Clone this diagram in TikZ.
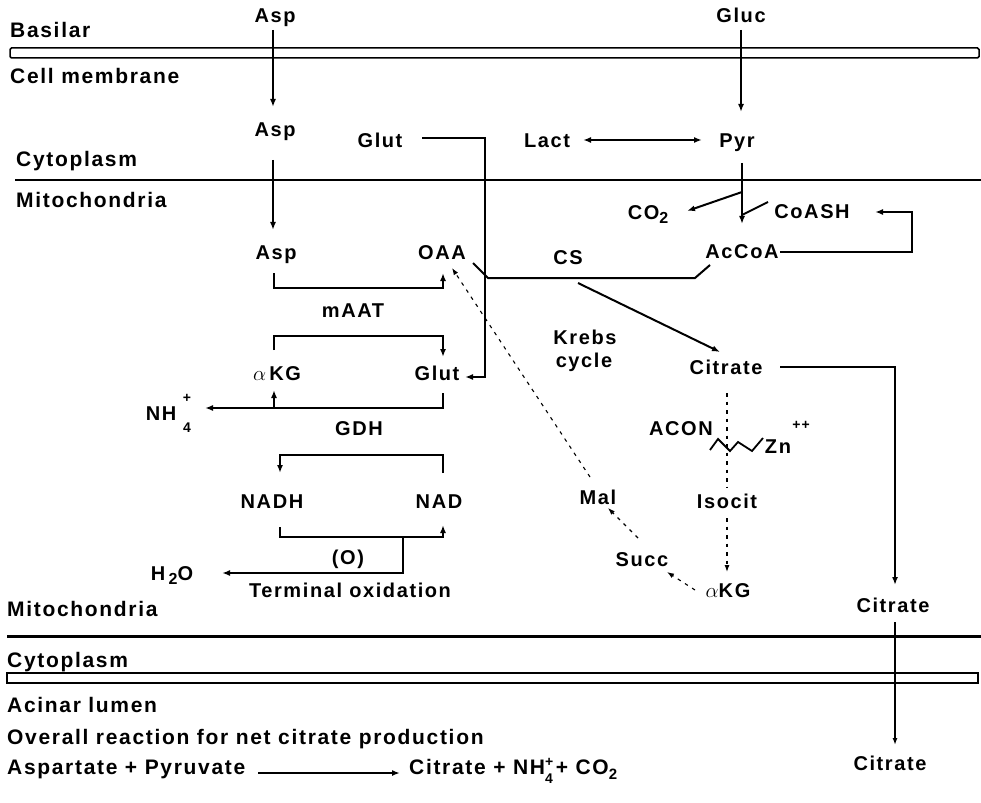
\documentclass[tikz,border=0pt]{standalone}
\usepackage{fontspec}
\setmainfont{Liberation Sans}[LetterSpace=8]
\usetikzlibrary{arrows.meta}
\begin{document}
\begin{tikzpicture}[x=1pt,y=-1pt,
  lbl/.style={font=\fontsize{20}{22}\selectfont\bfseries, inner sep=0pt, text height=14.3pt, text depth=0pt},
  reg/.style={font=\fontsize{21}{23}\selectfont\bfseries, inner sep=0pt, text height=15pt, text depth=0pt, anchor=west},
  small/.style={font=\fontsize{14}{15}\selectfont\bfseries, inner sep=0pt},
  conn/.style={line width=2pt},
  arr/.style={conn, -{Latex[length=8pt,width=6pt]}},
  darr/.style={conn, {Latex[length=8pt,width=6pt]}-{Latex[length=8pt,width=6pt]}},
  dashconn/.style={line width=1.1pt, dash pattern=on 3.5pt off 5pt},
  darrow/.style={dashconn, -{Latex[length=7pt,width=5pt]}},
  memb/.style={line width=1.5pt}]
\useasboundingbox (0,0) rectangle (981,802);

% membranes
\draw[memb, rounded corners=1.5pt] (10,48) rectangle (979,58);
\draw[line width=2pt] (15,180) -- (981,180);
\draw[line width=3pt] (7,636) -- (981,636);
\draw[memb] (7,673) rectangle (978,683);

% region labels
\node[reg] (basilar) at (10,30) {Basilar};
\node[reg] (cellmem) at (10,76) {Cell membrane};
\node[reg] (cyto1) at (16,159) {Cytoplasm};
\node[reg] (mito1) at (16,200) {Mitochondria};
\node[reg] (mito2) at (7,609) {Mitochondria};
\node[reg] (cyto2) at (7,660) {Cytoplasm};
\node[reg] (acinar) at (7,705) {Acinar lumen};
\node[reg] (overall) at (7,737) {Overall reaction for net citrate production};
\node[reg] (lhs) at (7,767) {Aspartate + Pyruvate};
\node[reg] (rhs) at (409,767) {Citrate + NH\rlap{\raisebox{8pt}{\fontsize{14}{15}\selectfont +}}\raisebox{-9pt}{\fontsize{14}{15}\selectfont 4}\hspace{3pt}+ CO\raisebox{-5pt}{\fontsize{15}{15}\selectfont 2}};
\coordinate (lhs-e) at (258,773);
\coordinate (rhs-w) at (400,773);
\draw[arr] (lhs-e) -- (rhs-w);

% chemical labels
\node[lbl] (asp1) at (275,15) {Asp};
\node[lbl] (asp2) at (275,129) {Asp};
\node[lbl] (asp3) at (276,252) {Asp};
\node[lbl] (glut1) at (380,140) {Glut};
\node[lbl] (gluc) at (741,15) {Gluc};
\node[lbl] (lact) at (547,140) {Lact};
\node[lbl] (pyr) at (737,140) {Pyr};
\node[lbl] (oaa) at (442,252) {OAA};
\node[lbl] (co2) at (648,212) {CO\raisebox{-4pt}{\fontsize{16}{16}\selectfont 2}};
\node[lbl] (coash) at (812,211) {CoASH};
\node[lbl] (accoa) at (742,251) {AcCoA};
\node[lbl] (cs) at (568,257) {CS};
\node[lbl] (krebs) at (585,337) {Krebs};
\node[lbl] (cycle) at (584,360) {cycle};
\node[lbl] (cit1) at (726,367) {Citrate};
\node[lbl] (acon) at (681,428) {ACON};
\node[lbl] (zn) at (778,446) {Zn};
\node[small] (znp) at (801,425) {++};
\node[lbl] (isocit) at (727,501) {Isocit};
\node[lbl] (mal) at (598,497) {Mal};
\node[lbl] (succ) at (642,559) {Succ};
\node[lbl] (akg2) at (728,590) {$\alpha$KG};
\node[lbl] (cit2) at (893,605) {Citrate};
\node[lbl] (cit3) at (890,763) {Citrate};
\node[lbl] (maat) at (353,310) {mAAT};
\node[lbl] (akg1) at (277,373) {$\alpha$\,KG};
\node[lbl] (glut2) at (437,373) {Glut};
\node[lbl] (nh) at (161,413) {NH};
\node[small] (nhp) at (187,398) {+};
\node[small] (nh4) at (187,428) {4};
\node[lbl] (gdh) at (359,428) {GDH};
\node[lbl] (nadh) at (272,501) {NADH};
\node[lbl] (nad) at (439,501) {NAD};
\node[lbl] (ox) at (348,557) {(O)};
\node[lbl] (h2o) at (172,573) {H\,\raisebox{-4pt}{\fontsize{16}{16}\selectfont 2}O};
\node[lbl] (term) at (350,590) {Terminal oxidation};

% connector end points
\coordinate (asp1-s) at (273,30);
\coordinate (asp2-n) at (273,107);
\coordinate (asp2-s) at (273,160);
\coordinate (asp3-n) at (273,230);
\coordinate (gluc-s) at (741,30);
\coordinate (pyr-n) at (741,112);
\coordinate (lact-e) at (583,140);
\coordinate (pyr-w) at (702,140);
\coordinate (pyr-s) at (742,163);
\coordinate (accoa-n) at (742,224);
\coordinate (pdh) at (742,192);
\coordinate (co2-e) at (687,211);
\coordinate (coash-w) at (768,202);
\coordinate (coash-j) at (742,215);
\coordinate (accoa-e) at (780,252);
\coordinate (coash-e) at (875,212);
\coordinate (accoa-sw) at (710,265);
\coordinate (oaa-se) at (473,263);
\coordinate (cs-s) at (578,283);
\coordinate (cit1-n) at (720,352);
\coordinate (glut1-e) at (422,138);
\coordinate (glut2-e) at (465,377);
\coordinate (asp3-s) at (274,273);
\coordinate (oaa-s) at (443,273);
\coordinate (akg1-n) at (274,350);
\coordinate (glut2-n) at (443,357);
\coordinate (glut2-s) at (443,393);
\coordinate (akg1-s) at (274,390);
\coordinate (nh-e) at (205,408);
\coordinate (nad-n) at (443,473);
\coordinate (nadh-n) at (280,473);
\coordinate (nadh-s) at (280,527);
\coordinate (nad-s) at (443,525);
\coordinate (h2o-e) at (222,573);
\coordinate (cit1-e) at (780,367);
\coordinate (cit2-n) at (895,585);
\coordinate (cit2-s) at (895,622);
\coordinate (cit3-n) at (895,745);
\coordinate (cit1-s) at (727,393);
\coordinate (isocit-n) at (727,487);
\coordinate (isocit-s) at (727,518);
\coordinate (akg2-n) at (727,572);
\coordinate (akg2-w) at (695,590);
\coordinate (succ-e) at (667,572);
\coordinate (succ-n) at (638,538);
\coordinate (mal-s) at (608,508);
\coordinate (mal-n) at (590,477);
\coordinate (oaa-e) at (452,268);

% solid connectors
\draw[arr] (asp1-s) -- (asp2-n);
\draw[arr] (asp2-s) -- (asp3-n);
\draw[arr] (gluc-s) -- (pyr-n);
\draw[darr] (lact-e) -- (pyr-w);
\draw[arr] (pyr-s) -- (accoa-n);
\draw[arr] (pdh) -- (co2-e);
\draw[conn] (coash-w) -- (coash-j);
\draw[arr] (accoa-e) -- (912,252) -- (912,212) -- (coash-e);
\draw[conn] (accoa-sw) -- (695,278) -- (488,278) -- (oaa-se);
\draw[arr] (cs-s) -- (cit1-n);
\draw[arr] (glut1-e) -- (485,138) -- (485,377) -- (glut2-e);
\draw[arr] (asp3-s) -- (274,288) -- (443,288) -- (oaa-s);
\draw[arr] (akg1-n) -- (274,336) -- (443,336) -- (glut2-n);
\draw[arr] (glut2-s) -- (443,408) -- (nh-e);
\draw[arr] (274,408) -- (akg1-s);
\draw[arr] (nad-n) -- (443,455) -- (280,455) -- (nadh-n);
\draw[arr] (nadh-s) -- (280,537) -- (443,537) -- (nad-s);
\draw[arr] (403,537) -- (403,573) -- (h2o-e);
\draw[arr] (cit1-e) -- (895,367) -- (cit2-n);
\draw[line width=1.5pt, -{Latex[length=7pt,width=5pt]}] (cit2-s) -- (cit3-n);

% dashed Krebs cycle
\draw[dashconn] (cit1-s) -- (isocit-n);
\draw[darrow] (isocit-s) -- (akg2-n);
\draw[darrow] (akg2-w) -- (succ-e);
\draw[darrow] (succ-n) -- (mal-s);
\draw[darrow] (mal-n) -- (oaa-e);

% aconitase zigzag
\draw[line width=1.8pt, line join=miter] (710,450) -- (718,439) -- (730,451) -- (738,442) -- (752,451) -- (763,438);
\end{tikzpicture}
\end{document}
